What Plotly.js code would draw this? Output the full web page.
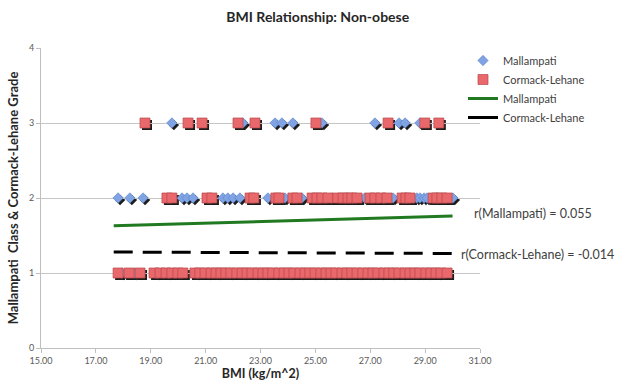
<!DOCTYPE html>
<html><head><meta charset="utf-8">
<script src="https://cdn.plot.ly/plotly-3.0.1.min.js"></script>
<style>html,body{margin:0;padding:0;background:#fff}#chart{width:628px;height:385px}</style>
</head><body><div id="chart"></div>
<script>
// ---- data ----
const xTickVals = [15, 17, 19, 21, 23, 25, 27, 29, 31];
const xTickText = ['15.00', '17.00', '19.00', '21.00', '23.00', '25.00', '27.00', '29.00', '31.00'];
const yTickVals = [0, 1, 2, 3, 4];

// Mallampati class (diamonds): BMI values per class
const mallampatiClass1BMI = [17.95, 18.40, 19.25, 19.65, 20.70, 21.10, 21.45, 21.90, 22.40, 22.85, 23.20, 23.60, 24.10, 24.50, 24.95, 25.30, 25.70, 26.10, 26.60, 26.95, 27.40, 27.80, 28.20, 28.70, 29.10, 29.50];
const mallampatiClass2BMI = [17.81, 18.24, 18.72, 20.14, 20.32, 20.54, 21.63, 21.81, 22.00, 22.25, 23.27, 23.89, 24.51, 24.95, 25.60, 26.10, 26.80, 27.50, 27.83, 28.70, 28.81, 28.96, 29.07, 29.40, 30.01];
const mallampatiClass3BMI = [19.77, 22.36, 23.53, 23.78, 24.18, 25.24, 27.17, 28.05, 28.27, 28.81];

// Cormack-Lehane grade (squares): BMI values per grade
const cormackGrade1BMI = [17.81, 18.21, 18.61, 19.12, 19.34, 19.56, 19.77, 19.99, 20.17, 20.61, 20.79, 20.98, 21.20, 21.38, 21.56, 21.74, 21.92, 22.14, 22.33, 22.51, 22.69, 22.91, 23.09, 23.27, 23.45, 23.67, 23.86, 24.04, 24.22, 24.44, 24.62, 24.80, 24.99, 25.20, 25.39, 25.57, 25.75, 25.97, 26.15, 26.33, 26.52, 26.73, 26.92, 27.10, 27.28, 27.50, 27.68, 27.86, 28.05, 28.27, 28.45, 28.63, 28.81, 29.03, 29.21, 29.40, 29.58, 29.80];
const cormackGrade2BMI = [19.59, 19.77, 21.05, 21.23, 22.62, 22.76, 23.56, 23.67, 24.18, 24.33, 24.88, 25.06, 25.24, 25.46, 25.82, 26.01, 26.19, 26.33, 26.52, 26.99, 27.17, 27.39, 27.61, 28.16, 28.30, 28.45, 29.29, 29.43, 29.61, 29.80];
const cormackGrade3BMI = [18.79, 20.36, 20.87, 22.18, 22.80, 25.02, 27.65, 28.99, 29.50];

// linear trend lines
const trendBMI = [17.65, 30.0];
const mallampatiTrend = [1.63, 1.76];
const cormackTrend = [1.28, 1.26];
const rMallampati = '0.055';
const rCormack = '-0.014';

// ---- build series ----
function build(groups) {
  const x = [], y = [];
  groups.forEach(([grade, arr]) => arr.forEach(v => { x.push(v); y.push(grade); }));
  return {x, y};
}
const mall = build([[1, mallampatiClass1BMI], [2, mallampatiClass2BMI], [3, mallampatiClass3BMI]]);
const cl = build([[1, cormackGrade1BMI], [2, cormackGrade2BMI], [3, cormackGrade3BMI]]);

const FONT = 'Lato, "Open Sans", sans-serif';
const shadow = '#1c1c1c';

// shadows live on the (invisible) x/y axes, offset 2px; real marks on visible x2/y2 axes
const traces = [
  {x: mall.x, y: mall.y, xaxis: 'x', yaxis: 'y', type: 'scatter', mode: 'markers', showlegend: false, hoverinfo: 'skip',
   marker: {symbol: 'diamond', size: 8, color: shadow}},
  {x: cl.x, y: cl.y, xaxis: 'x', yaxis: 'y', type: 'scatter', mode: 'markers', showlegend: false, hoverinfo: 'skip',
   marker: {symbol: 'square', size: 10, color: shadow}},
  {x: mall.x, y: mall.y, xaxis: 'x2', yaxis: 'y2', type: 'scatter', mode: 'markers', name: 'Mallampati',
   marker: {symbol: 'diamond', size: 8, color: '#7fa3e3', line: {color: '#5a80c6', width: 0.6}}},
  {x: cl.x, y: cl.y, xaxis: 'x2', yaxis: 'y2', type: 'scatter', mode: 'markers', name: 'Cormack-Lehane',
   marker: {symbol: 'square', size: 10, color: '#e9686b', line: {color: '#b9474a', width: 0.7}}},
  {x: trendBMI, y: mallampatiTrend, xaxis: 'x2', yaxis: 'y2', type: 'scatter', mode: 'lines', name: 'Mallampati',
   line: {color: '#217a21', width: 3}},
  {x: trendBMI, y: cormackTrend, xaxis: 'x2', yaxis: 'y2', type: 'scatter', mode: 'lines', name: 'Cormack-Lehane',
   showlegend: false, line: {color: '#000000', width: 3, dash: '19px,10px'}},
  // legend entry for the Cormack-Lehane trend (drawn solid in the reference legend)
  {x: [null], y: [null], xaxis: 'x2', yaxis: 'y2', type: 'scatter', mode: 'lines', name: 'Cormack-Lehane',
   hoverinfo: 'skip', line: {color: '#000000', width: 3}}
];

const layout = {
  width: 628, height: 385,
  margin: {l: 41, r: 146, t: 48, b: 35, autoexpand: false},
  paper_bgcolor: '#ffffff', plot_bgcolor: 'rgba(0,0,0,0)',
  font: {family: FONT, color: '#404040'},
  title: {text: '<b>BMI Relationship: Non-obese</b>', font: {family: FONT, size: 14, color: '#262626'},
          x: 0.506, xref: 'container', xanchor: 'center', y: 0.956, yref: 'container', yanchor: 'middle'},
  xaxis: {domain: [2 / 441, 1], range: [15, 31], visible: false, anchor: 'y', fixedrange: true},
  yaxis: {domain: [0, 300 / 302], range: [0, 4], visible: false, anchor: 'x', fixedrange: true},
  xaxis2: {domain: [0, 439 / 441], range: [15, 31], tickvals: xTickVals, ticktext: xTickText,
          showgrid: false, zeroline: false, showline: true, linecolor: '#bfbfbf', linewidth: 1,
          ticks: 'outside', ticklen: 4, tickcolor: '#bfbfbf', tickfont: {family: FONT, size: 9, color: '#595959'},
          title: {text: '<b>BMI (kg/m^2)</b>', font: {family: FONT, size: 12.5, color: '#262626'}, standoff: 4},
          anchor: 'y2', fixedrange: true},
  yaxis2: {domain: [2 / 302, 1], range: [0, 4], tickvals: yTickVals,
          showgrid: true, gridcolor: '#c6c6c6', gridwidth: 1, zeroline: false, showline: true, linecolor: '#bfbfbf', linewidth: 1,
          ticks: 'outside', ticklen: 4, tickcolor: '#bfbfbf', tickfont: {family: FONT, size: 9, color: '#595959'},
          title: {text: '<b>Mallampati  Class &amp; Cormack-Lehane Grade</b>', font: {family: FONT, size: 13, color: '#262626'}, standoff: 7},
          anchor: 'x2', fixedrange: true},
  showlegend: true,
  legend: {x: 463 / 628, xref: 'container', xanchor: 'left', y: 1 - 46 / 385, yref: 'container', yanchor: 'top',
           font: {family: FONT, size: 11, color: '#404040'}, bgcolor: 'rgba(0,0,0,0)', traceorder: 'normal'},
  annotations: [
    {x: 30.71, y: 1.787, xref: 'x2', yref: 'y2', text: 'r(Mallampati) = ' + rMallampati, showarrow: false,
     xanchor: 'left', yanchor: 'middle', font: {family: FONT, size: 12.5, color: '#404040'}},
    {x: 30.23, y: 1.253, xref: 'x2', yref: 'y2', text: 'r(Cormack-Lehane) = ' + rCormack, showarrow: false,
     xanchor: 'left', yanchor: 'middle', font: {family: FONT, size: 12.5, color: '#404040'}}
  ]
};

Plotly.newPlot('chart', traces, layout, {displayModeBar: false, staticPlot: true});
</script>
</body></html>
